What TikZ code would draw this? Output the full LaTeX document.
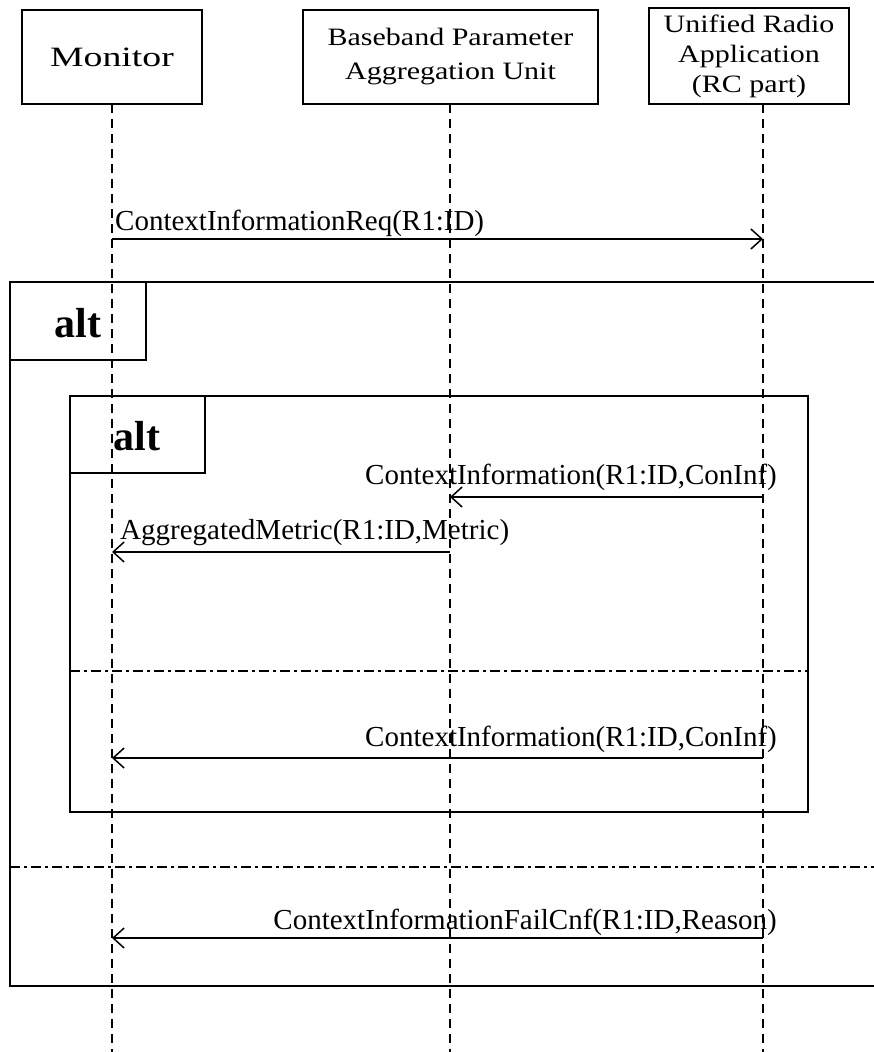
\documentclass[tikz,border=0pt]{standalone}
\usepackage{fontspec}
\setmainfont{Liberation Serif}
\newfontfamily\hdrfont[FakeStretch=1.2]{Liberation Serif}
\newfontfamily\monfont[FakeStretch=1.35]{Liberation Serif}
\usetikzlibrary{arrows.meta}
\tikzset{
  frameline/.style={line width=1.4pt, draw=black},
  hbox/.style={draw=black, line width=1.4pt, fill=white, inner sep=0pt, align=center},
  lifeline/.style={line width=1.4pt, dash pattern=on 9pt off 6pt},
  sepline/.style={line width=1.4pt, dash pattern=on 10pt off 4pt on 3pt off 4pt},
  msg/.style={line width=1.5pt, -{Straight Barb[length=11pt,width=20pt,line width=1.5pt]}},
  msglabel/.style={inner sep=0pt, font=\fontsize{29}{31}\selectfont},
  altlabel/.style={inner sep=0pt, font=\bfseries\fontsize{42}{42}\selectfont}
}
\begin{document}
\begin{tikzpicture}[x=1pt,y=-1pt]
\useasboundingbox (0,0) rectangle (874,1052);
\clip (0,0) rectangle (874,1052);

% lifeline coordinates
\coordinate (monTop) at (112,104);
\coordinate (monBot) at (112,1052);
\coordinate (bbTop) at (450,104);
\coordinate (bbBot) at (450,1052);
\coordinate (urTop) at (763,104);
\coordinate (urBot) at (763,1052);

% lifelines
\draw[lifeline] (monTop) -- (monBot);
\draw[lifeline] (bbTop) -- (bbBot);
\draw[lifeline] (urTop) -- (urBot);

% header boxes
\node[hbox, minimum width=180pt, minimum height=94pt,
      font=\monfont\fontsize{28}{30}\selectfont] (mon) at (112,57) {Monitor};
\node[hbox, minimum width=295pt, minimum height=94pt,
      font=\hdrfont\fontsize{25}{34}\selectfont] (bb) at (450.5,57)
  {Baseband Parameter\\Aggregation Unit};
\node[hbox, minimum width=200pt, minimum height=96pt,
      font=\hdrfont\fontsize{25}{30}\selectfont] (ur) at (749,56)
  {Unified Radio\\Application\\(RC part)};

% message 1
\coordinate (m1a) at (112,239);
\coordinate (m1b) at (763,239);
\draw[msg] (m1a) -- (m1b);
\node[msglabel, anchor=base west] (l1) at (115,230) {ContextInformationReq(R1:ID)};

% outer alt frame
\draw[frameline] (10,282) rectangle (890,986);
\draw[frameline] (10,282) rectangle (146,360);
\node[altlabel] (alt1) at (78,323) {alt};
\draw[sepline] (10,867) -- (880,867);

% inner alt frame
\draw[frameline] (70,396) rectangle (808,812);
\draw[frameline] (70,396) rectangle (205,473);
\node[altlabel] (alt2) at (137,436) {alt};
\draw[sepline] (70,671) -- (808,671);

% message 2
\coordinate (m2a) at (763,497);
\coordinate (m2b) at (450,497);
\draw[msg] (m2a) -- (m2b);
\node[msglabel, anchor=base east] (l2) at (777,484) {ContextInformation(R1:ID,ConInf)};

% message 3
\coordinate (m3a) at (450,552);
\coordinate (m3b) at (112,552);
\draw[msg] (m3a) -- (m3b);
\node[msglabel, anchor=base west] (l3) at (120,539) {AggregatedMetric(R1:ID,Metric)};

% message 4
\coordinate (m4a) at (763,758);
\coordinate (m4b) at (112,758);
\draw[msg] (m4a) -- (m4b);
\node[msglabel, anchor=base east] (l4) at (777,746) {ContextInformation(R1:ID,ConInf)};

% message 5
\coordinate (m5a) at (763,938);
\coordinate (m5b) at (112,938);
\draw[msg] (m5a) -- (m5b);
\node[msglabel, anchor=base east] (l5) at (777,929) {ContextInformationFailCnf(R1:ID,Reason)};
\end{tikzpicture}
\end{document}
